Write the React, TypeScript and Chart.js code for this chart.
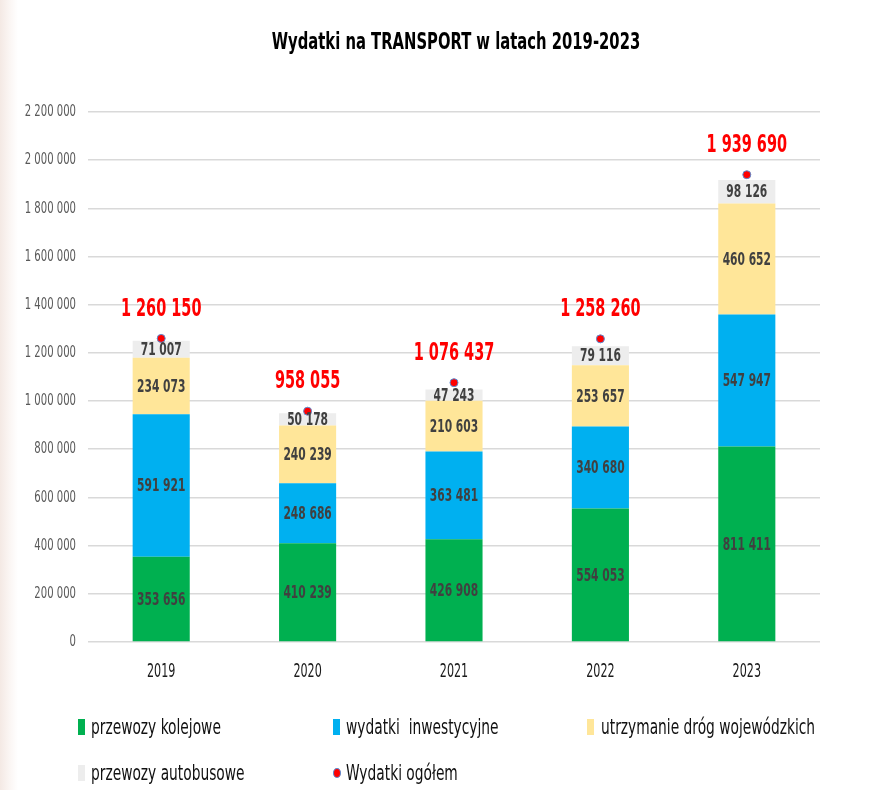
import React, { useEffect, useRef } from "react";
import { Chart, registerables } from "chart.js";

Chart.register(...registerables);

const years = ["2019", "2020", "2021", "2022", "2023"];
const przewozyKolejowe = [353656, 410239, 426908, 554053, 811411];
const wydatkiInwestycyjne = [591921, 248686, 363481, 340680, 547947];
const utrzymanieDrog = [234073, 240239, 210603, 253657, 460652];
const przewozyAutobusowe = [71007, 50178, 47243, 79116, 98126];
const wydatkiOgolem = [1260150, 958055, 1076437, 1258260, 1939690];

const yMin = 0;
const yMax = 2200000;
const yStep = 200000;

const FONT = "'DejaVu Sans Condensed', 'DejaVu Sans', sans-serif";

const fmt = (n: number) => String(n).replace(/\B(?=(\d{3})+(?!\d))/g, " ");

function drawText(ctx: any, text: string, x: number, y: number, font: string, color: string, align: string, sx: number) {
  ctx.save();
  ctx.translate(x, y);
  ctx.scale(sx, 1);
  ctx.font = font;
  ctx.fillStyle = color;
  ctx.textAlign = align;
  ctx.textBaseline = "middle";
  ctx.fillText(text, 0, 0);
  ctx.restore();
}

const axisLabelsPlugin = {
  id: "axisLabels",
  afterDraw(chart: any) {
    const ctx = chart.ctx;
    const ys = chart.scales.y;
    ys.ticks.forEach((t: any, i: number) => {
      const py = ys.getPixelForTick(i);
      drawText(ctx, fmt(t.value), ys.right - 12, py, `16px ${FONT}`, "#595959", "right", 0.7);
    });
    const xs = chart.scales.x;
    xs.ticks.forEach((t: any, i: number) => {
      const px = xs.getPixelForTick(i);
      const lbl = chart.data.labels[t.value] ?? t.label;
      drawText(ctx, String(lbl), px, chart.chartArea.bottom + 30, `20px ${FONT}`, "#1a1a1a", "center", 0.62);
    });
  },
};

const valueLabelsPlugin = {
  id: "valueLabels",
  afterDatasetsDraw(chart: any) {
    const ctx = chart.ctx;
    chart.data.datasets.forEach((ds: any, di: number) => {
      const meta = chart.getDatasetMeta(di);
      if (meta.hidden) return;
      meta.data.forEach((el: any, i: number) => {
        const v = ds.data[i];
        if (ds.type === "line") {
          drawText(ctx, fmt(v), el.x, el.y - 29, `bold 24px ${FONT}`, "#FF0000", "center", 0.67);
        } else {
          drawText(ctx, fmt(v), el.x, (el.y + el.base) / 2 + 1, `bold 18px ${FONT}`, "#404040", "center", 0.66);
        }
      });
    });
  },
};

const legendItems = [
  { label: "przewozy kolejowe", color: "#00B050", kind: "box", x: 78, tx: 91, y: 727 },
  { label: "wydatki  inwestycyjne", color: "#00B0F0", kind: "box", x: 333, tx: 346, y: 727 },
  { label: "utrzymanie dróg wojewódzkich", color: "#FFE699", kind: "box", x: 587, tx: 601, y: 727 },
  { label: "przewozy autobusowe", color: "#EDEDED", kind: "box", x: 78, tx: 91, y: 773 },
  { label: "Wydatki ogółem", color: "#FF0000", kind: "dot", x: 333, tx: 346, y: 773 },
];

export default function App() {
  const ref = useRef<HTMLCanvasElement | null>(null);

  useEffect(() => {
    if (!ref.current) return;
    const chart = new Chart(ref.current, {
      type: "bar",
      data: {
        labels: years,
        datasets: [
          {
            type: "line",
            label: "Wydatki ogółem",
            data: wydatkiOgolem,
            showLine: false,
            pointRadius: 4,
            pointBackgroundColor: "#FF0000",
            pointBorderColor: "#5B8BD0",
            pointBorderWidth: 1,
            stack: "total",
            order: 0,
          } as any,
          {
            type: "bar",
            label: "przewozy kolejowe",
            data: przewozyKolejowe,
            backgroundColor: "#00B050",
            stack: "s",
            order: 1,
          },
          {
            type: "bar",
            label: "wydatki  inwestycyjne",
            data: wydatkiInwestycyjne,
            backgroundColor: "#00B0F0",
            stack: "s",
            order: 1,
          },
          {
            type: "bar",
            label: "utrzymanie dróg wojewódzkich",
            data: utrzymanieDrog,
            backgroundColor: "#FFE699",
            stack: "s",
            order: 1,
          },
          {
            type: "bar",
            label: "przewozy autobusowe",
            data: przewozyAutobusowe,
            backgroundColor: "#EDEDED",
            stack: "s",
            order: 1,
          },
        ],
      },
      options: {
        responsive: false,
        animation: false,
        layout: { padding: { left: 0, right: 63, top: 112, bottom: 0 } },
        datasets: {
          bar: { categoryPercentage: 1, barPercentage: 0.39 },
        },
        plugins: {
          legend: { display: false },
          tooltip: { enabled: false },
          title: { display: false },
        },
        scales: {
          x: {
            stacked: true,
            grid: { display: false, drawTicks: false },
            border: { display: false },
            ticks: { display: false },
            afterFit: (s: any) => {
              s.height = 148;
            },
          },
          y: {
            stacked: true,
            min: yMin,
            max: yMax,
            grid: { color: "#D9D9D9", lineWidth: 1.6, drawTicks: false },
            border: { display: false },
            ticks: {
              display: false,
              stepSize: yStep,
            },
            afterFit: (s: any) => {
              s.width = 88;
            },
          },
        },
      },
      plugins: [valueLabelsPlugin, axisLabelsPlugin],
    });
    return () => chart.destroy();
  }, []);

  return (
    <div
      style={{
        position: "fixed",
        left: 0,
        top: 0,
        width: 883,
        height: 790,
        background: "linear-gradient(to right, #f4e9e4 0px, #fbf6f4 10px, #ffffff 18px)",
        overflow: "hidden",
      }}
    >
      <canvas ref={ref} width={883} height={790} style={{ position: "absolute", left: 0, top: 0 }} />
      <div
        style={{
          position: "absolute",
          left: 456 - 300,
          width: 600,
          top: 41 - 15,
          height: 30,
          lineHeight: "30px",
          textAlign: "center",
          fontFamily: FONT,
          fontWeight: "bold",
          fontSize: 23,
          color: "#000",
          transform: "scaleX(0.715)",
          transformOrigin: "center",
          whiteSpace: "pre",
        }}
      >
        Wydatki na TRANSPORT w latach 2019-2023
      </div>
      {legendItems.map((it) => (
        <React.Fragment key={it.label}>
          {it.kind === "box" ? (
            <span
              style={{
                position: "absolute",
                left: it.x,
                top: it.y - 8,
                width: 7,
                height: 16,
                background: it.color,
              }}
            />
          ) : (
            <span
              style={{
                position: "absolute",
                left: it.x,
                top: it.y - 5,
                width: 6,
                height: 8,
                borderRadius: "50%",
                background: it.color,
                border: "1px solid #5B8BD0",
              }}
            />
          )}
          <span
            style={{
              position: "absolute",
              left: it.tx,
              top: it.y - 15,
              height: 30,
              lineHeight: "30px",
              fontFamily: FONT,
              fontSize: 21,
              color: "#111",
              whiteSpace: "pre",
              transform: "scaleX(0.73)",
              transformOrigin: "left center",
            }}
          >
            {it.label}
          </span>
        </React.Fragment>
      ))}
    </div>
  );
}
